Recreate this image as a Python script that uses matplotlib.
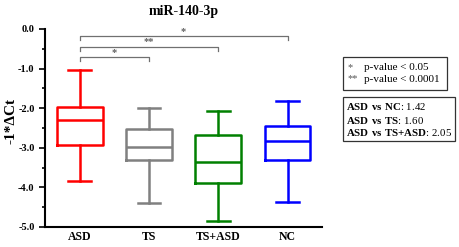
import matplotlib.pyplot as plt
from matplotlib.patches import Rectangle

plt.rcParams['font.family'] = ['Liberation Serif', 'DejaVu Serif']
plt.rcParams['mathtext.fontset'] = 'custom'
plt.rcParams['mathtext.rm'] = 'Liberation Serif'
plt.rcParams['mathtext.bf'] = 'Liberation Serif:bold'

# data
groups = ['ASD', 'TS', 'TS+ASD', 'NC']
whis_hi = [-1.05, -1.99, -2.06, -1.81]
q3 = [-1.98, -2.53, -2.67, -2.46]
med = [-2.30, -2.98, -3.35, -2.82]
q1 = [-2.93, -3.32, -3.88, -3.32]
whis_lo = [-3.83, -4.39, -4.84, -4.36]
colors = ['#ff0000', '#808080', '#008000', '#0000ff']

# significance brackets: (group a, group b, height, label)
brackets = [(0, 1, -0.71, '*'), (0, 2, -0.45, '**'), (0, 3, -0.18, '*')]

fig = plt.figure(figsize=(4.59, 2.47), dpi=100)
ax = fig.add_axes([0.098, 0.081, 0.604, 0.802])

stats = []
for i, g in enumerate(groups):
    stats.append(dict(label=g, whislo=whis_lo[i], q1=q1[i], med=med[i],
                      q3=q3[i], whishi=whis_hi[i], fliers=[]))
pos = list(range(1, len(groups) + 1))
for i, s in enumerate(stats):
    c = colors[i]
    ax.bxp([s], positions=[pos[i]], widths=0.66, showfliers=False,
           boxprops=dict(color=c, lw=1.8),
           medianprops=dict(color=c, lw=1.8),
           whiskerprops=dict(color=c, lw=1.8),
           capprops=dict(color=c, lw=1.8), capwidths=0.33)

for a, b, h, lab in brackets:
    xa, xb = pos[a], pos[b]
    ax.plot([xa, xa, xb, xb], [h - 0.1, h, h, h - 0.1], color='#707070', lw=0.9)
    ax.text((xa + xb) / 2, h + 0.01, lab, ha='center', va='bottom',
            fontsize=7.5, color='#606060', fontweight='bold')

ax.set_xlim(0.5, 4.5)
ax.set_ylim(-5.0, 0.0)
ax.set_yticks([0, -1, -2, -3, -4, -5])
ax.set_yticklabels(['0.0', '-1.0', '-2.0', '-3.0', '-4.0', '-5.0'],
                   fontweight='bold', fontsize=7.5)
ax.set_yticks([-0.5, -1.5, -2.5, -3.5, -4.5], minor=True)
ax.set_xticks(pos)
ax.set_xticklabels(groups, fontweight='bold', fontsize=8.5)
ax.tick_params(axis='x', length=0, pad=3)
ax.tick_params(axis='y', which='major', length=4, width=1.2)
ax.tick_params(axis='y', which='minor', length=2.5, width=1.2)
ax.spines['top'].set_visible(False)
ax.spines['right'].set_visible(False)
ax.spines['left'].set_linewidth(1.5)
ax.spines['bottom'].set_linewidth(1.5)
ax.set_ylabel('-1*\u0394Ct', fontweight='bold', fontsize=11)
ax.yaxis.set_label_coords(-0.10, 0.535)
ax.set_title('miR-140-3p', fontweight='bold', fontsize=10, pad=10)

W, H = 459, 247


def fx(px):
    return px / W


def fy(py):
    return 1 - py / H


fig.patches.append(Rectangle((fx(343), fy(90)), fx(447) - fx(343), fy(57) - fy(90),
                             transform=fig.transFigure, fill=False,
                             ec='#333333', lw=0.9))
fig.text(fx(348), fy(68), '*', fontsize=7.5, color='#555555', va='center')
fig.text(fx(364), fy(68), 'p-value < 0.05', fontsize=8, va='center')
fig.text(fx(348), fy(79), '**', fontsize=7.5, color='#555555', va='center')
fig.text(fx(364), fy(79), 'p-value < 0.0001', fontsize=8, va='center')

fig.patches.append(Rectangle((fx(343), fy(141)), fx(455) - fx(343), fy(97) - fy(141),
                             transform=fig.transFigure, fill=False,
                             ec='#333333', lw=0.9))
lines = [r'$\mathbf{ASD\ vs\ NC}$: 1.42',
         r'$\mathbf{ASD\ vs\ TS}$: 1.60',
         r'$\mathbf{ASD\ vs\ TS{+}ASD}$: 2.05']
for k, t in enumerate(lines):
    fig.text(fx(346), fy(107 + 13 * k), t, fontsize=7.8, va='center')

fig.savefig('out.png', dpi=100)
